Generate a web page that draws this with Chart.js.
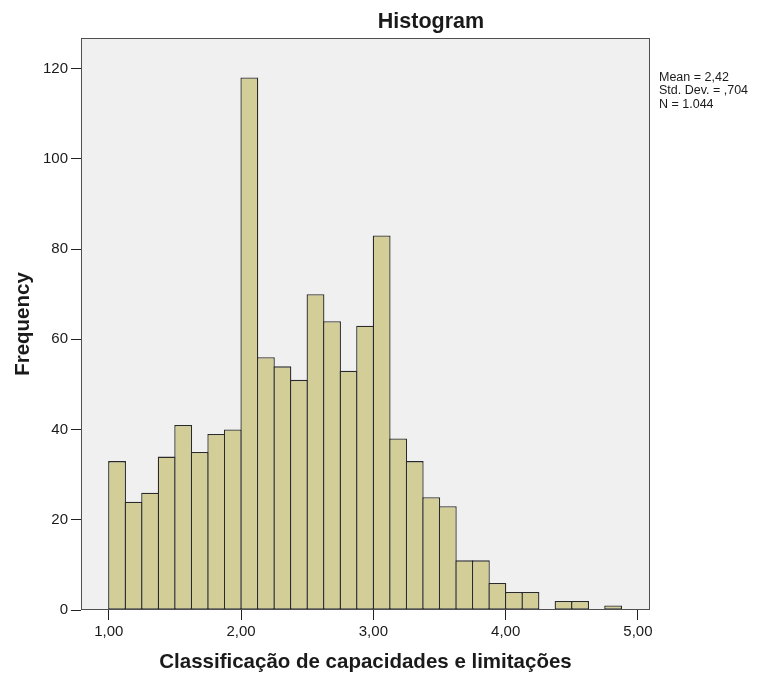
<!DOCTYPE html>
<html>
<head>
<meta charset="utf-8">
<script src="https://cdn.jsdelivr.net/npm/chart.js@4.4.1/dist/chart.umd.min.js"></script>
<style>
html,body{margin:0;padding:0;background:#ffffff;}
#wrap{width:769px;height:675px;position:relative;}
</style>
</head>
<body>
<div id="wrap"><canvas id="c" width="769" height="675"></canvas></div>
<script>
// ---- data ----
const binWidth = 0.125;
const binStarts = [1.000, 1.125, 1.250, 1.375, 1.500, 1.625, 1.750, 1.875,
                   2.000, 2.125, 2.250, 2.375, 2.500, 2.625, 2.750, 2.875,
                   3.000, 3.125, 3.250, 3.375, 3.500, 3.625, 3.750, 3.875,
                   4.000, 4.125, 4.250, 4.375, 4.500, 4.625, 4.750, 4.875];
const frequencies = [33, 24, 26, 34, 41, 35, 39, 40,
                     118, 56, 54, 51, 70, 64, 53, 63,
                     83, 38, 33, 25, 23, 11, 11, 6,
                     4, 4, 0, 2, 2, 0, 1, 0];
const xTickValues = [1, 2, 3, 4, 5];
const yTickValues = [0, 20, 40, 60, 80, 100, 120];
const chartTitle = 'Histogram';
const xAxisTitle = 'Classificação de capacidades e limitações';
const yAxisTitle = 'Frequency';
const statsLines = ['Mean = 2,42', 'Std. Dev. = ,704', 'N = 1.044'];

// ---- styling ----
const FONT = '"Liberation Sans", Arial, Helvetica, sans-serif';
const BAR_FILL = '#d3ce97';
const BAR_EDGE = '#2a2a2a';
const PLOT_BG = '#f0f0f0';
const PLOT_EDGE = '#505050';
const TEXT = '#1a1a1a';

const points = binStarts.map((s, i) => ({ x: s + binWidth / 2, y: frequencies[i] === 0 ? null : frequencies[i] }));

const framePlugin = {
  id: 'frame',
  beforeDatasetsDraw(chart) {
    const a = chart.chartArea, ctx = chart.ctx;
    ctx.save();
    ctx.fillStyle = PLOT_BG;
    ctx.fillRect(a.left, a.top, a.right - a.left, a.bottom - a.top);
    ctx.restore();
  },
  afterDraw(chart) {
    const a = chart.chartArea, ctx = chart.ctx;
    ctx.save();
    ctx.strokeStyle = PLOT_EDGE;
    ctx.lineWidth = 1;
    ctx.strokeRect(Math.round(a.left) + 0.5, Math.round(a.top) + 0.5,
                   Math.round(a.right - a.left) - 1, Math.round(a.bottom - a.top) - 1);
    // title
    ctx.fillStyle = TEXT;
    ctx.font = 'bold 21.5px ' + FONT;
    ctx.textAlign = 'center';
    ctx.textBaseline = 'alphabetic';
    ctx.fillText(chartTitle, 431, 28);
    // stats box text
    ctx.font = '12.5px ' + FONT;
    ctx.textAlign = 'left';
    statsLines.forEach((t, i) => ctx.fillText(t, 659, 80.5 + i * 13.5));
    ctx.restore();
  }
};

new Chart(document.getElementById('c'), {
  type: 'bar',
  data: {
    datasets: [{
      data: points,
      backgroundColor: BAR_FILL,
      borderColor: BAR_EDGE,
      borderWidth: 1.3,
      borderSkipped: false,
      barPercentage: 1.079,
      categoryPercentage: 1.0,
      inflateAmount: 0
    }]
  },
  options: {
    responsive: false,
    animation: false,
    devicePixelRatio: 1,
    layout: { padding: { top: 38, right: 119, left: 0, bottom: 0 } },
    plugins: {
      legend: { display: false },
      tooltip: { enabled: false },
      title: { display: false }
    },
    scales: {
      x: {
        type: 'linear',
        min: 0.79,
        max: 5.091,
        offset: false,
        afterBuildTicks: s => { s.ticks = xTickValues.map(v => ({ value: v })); },
        afterFit: s => { s.height = 65; },
        grid: { offset: false, drawOnChartArea: false, drawTicks: true, tickLength: 10, color: '#222', lineWidth: 1 },
        border: { display: false },
        ticks: {
          font: { family: FONT, size: 15 }, color: TEXT, padding: 3,
          maxRotation: 0, autoSkip: false,
          callback: v => Number(v).toFixed(2).replace('.', ',')
        },
        title: {
          display: true, text: xAxisTitle, color: TEXT,
          font: { family: FONT, size: 20.5, weight: 'bold' },
          padding: { top: 0, bottom: 0 }
        }
      },
      y: {
        type: 'linear',
        min: 0,
        max: 126.76,
        afterBuildTicks: s => { s.ticks = yTickValues.map(v => ({ value: v })); },
        afterFit: s => { s.width = 81; },
        grid: { offset: false, drawOnChartArea: false, drawTicks: true, tickLength: 10, color: '#222', lineWidth: 1 },
        border: { display: false },
        ticks: {
          font: { family: FONT, size: 15 }, color: TEXT, padding: 3,
          callback: v => String(v)
        },
        title: {
          display: true, text: yAxisTitle, color: TEXT,
          font: { family: FONT, size: 20.5, weight: 'bold' },
          padding: { top: 11, bottom: 0 }
        }
      }
    }
  },
  plugins: [framePlugin]
});
</script>
</body>
</html>
